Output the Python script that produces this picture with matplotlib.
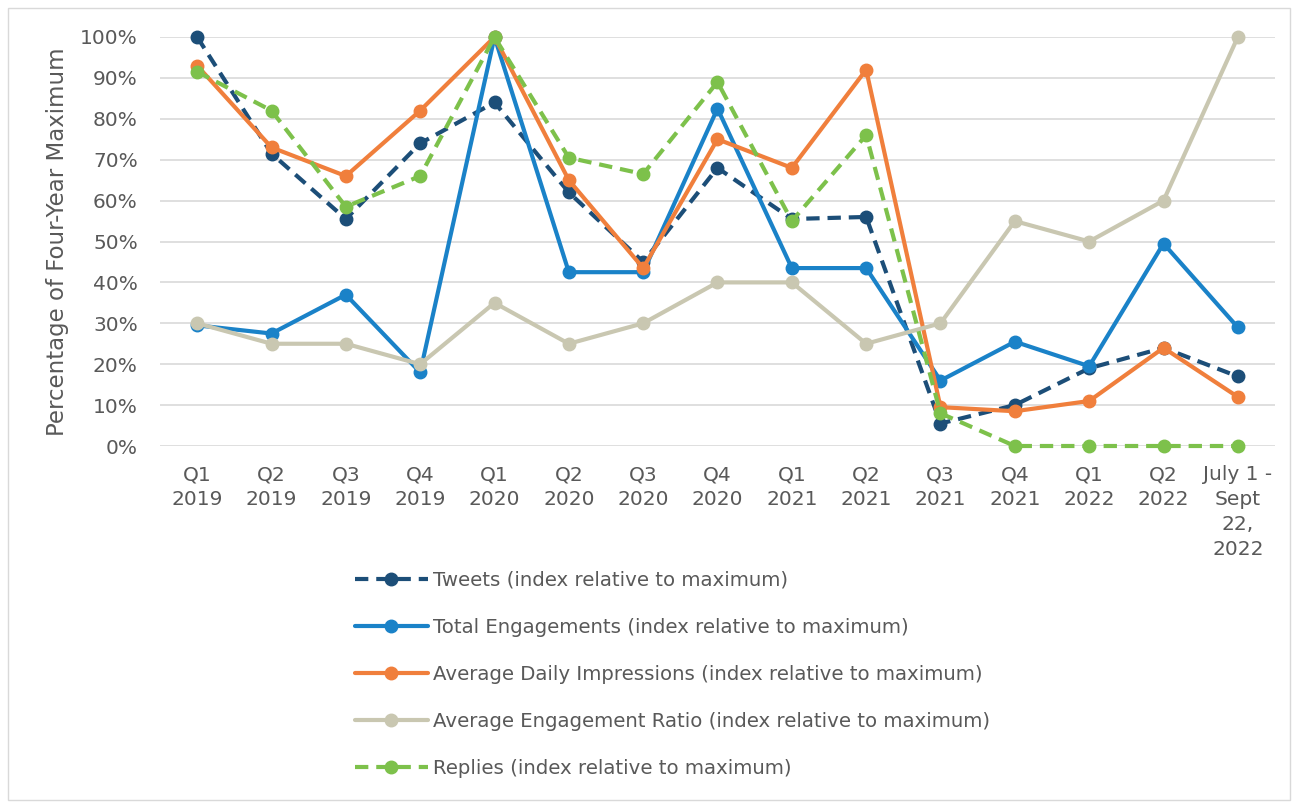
import matplotlib.pyplot as plt
from matplotlib.patches import Rectangle
from matplotlib.ticker import FuncFormatter

quarters = [
    "Q1\n2019", "Q2\n2019", "Q3\n2019", "Q4\n2019",
    "Q1\n2020", "Q2\n2020", "Q3\n2020", "Q4\n2020",
    "Q1\n2021", "Q2\n2021", "Q3\n2021", "Q4\n2021",
    "Q1\n2022", "Q2\n2022", "July 1 -\nSept\n22,\n2022",
]

tweets = [100, 71.5, 55.5, 74, 84, 62, 45, 68, 55.5, 56, 5.5, 10, 19, 24, 17]
engagements = [29.5, 27.5, 37, 18, 100, 42.5, 42.5, 82.5, 43.5, 43.5, 16, 25.5, 19.5, 49.5, 29]
impressions = [93, 73, 66, 82, 100, 65, 43.5, 75, 68, 92, 9.5, 8.5, 11, 24, 12]
ratio = [30, 25, 25, 20, 35, 25, 30, 40, 40, 25, 30, 55, 50, 60, 100]
replies = [91.5, 82, 58.5, 66, 100, 70.5, 66.5, 89, 55, 76, 8, 0, 0, 0, 0]

series = [
    ("Tweets (index relative to maximum)", tweets, "#1c4e78", True),
    ("Total Engagements (index relative to maximum)", engagements, "#1a82c8", False),
    ("Average Daily Impressions (index relative to maximum)", impressions, "#f07f3c", False),
    ("Average Engagement Ratio (index relative to maximum)", ratio, "#c9c7b1", False),
    ("Replies (index relative to maximum)", replies, "#7dc14b", True),
]

text_color = "#595959"

fig = plt.figure(figsize=(12.99, 8.08), dpi=100)
fig.patches.append(Rectangle((8 / 1299, 8 / 808), 1282 / 1299, 792 / 808,
                             transform=fig.transFigure, fill=False,
                             edgecolor="#d9d9d9", linewidth=1.0))
ax = fig.add_axes([160 / 1299, 1 - 446 / 808, 1115 / 1299, 409 / 808])

x = list(range(len(quarters)))
for label, values, color, dashed in series:
    line, = ax.plot(x, [v / 100 for v in values], color=color, linewidth=3.0,
                    marker="o", markersize=9, label=label, clip_on=False,
                    solid_capstyle="round")
    if dashed:
        line.set_dashes((3.2, 1.9))

ax.set_xlim(-0.5, len(quarters) - 0.5)
ax.set_ylim(0, 1.0)
ax.set_yticks([i / 10 for i in range(11)])
ax.yaxis.set_major_formatter(FuncFormatter(lambda v, _: f"{v * 100:.0f}%"))
ax.set_xticks(x)
ax.set_xticklabels(quarters, linespacing=1.38)
ax.tick_params(axis="both", length=0, labelsize=14.5, colors=text_color)
ax.tick_params(axis="x", pad=14)
ax.tick_params(axis="y", pad=16)
ax.grid(axis="y", color="#d9d9d9", linewidth=1.2)
ax.set_axisbelow(True)
for spine in ax.spines.values():
    spine.set_visible(False)

ax.set_ylabel("Percentage of Four-Year Maximum", fontsize=16.5, color=text_color, labelpad=8)

fig.legend(loc="upper left", bbox_to_anchor=(337 / 1299, 1 - 553 / 808),
           frameon=False, fontsize=14.2, labelcolor=text_color,
           handlelength=3.7, handletextpad=0.25, labelspacing=1.42)

fig.savefig("out.png", dpi=100)
